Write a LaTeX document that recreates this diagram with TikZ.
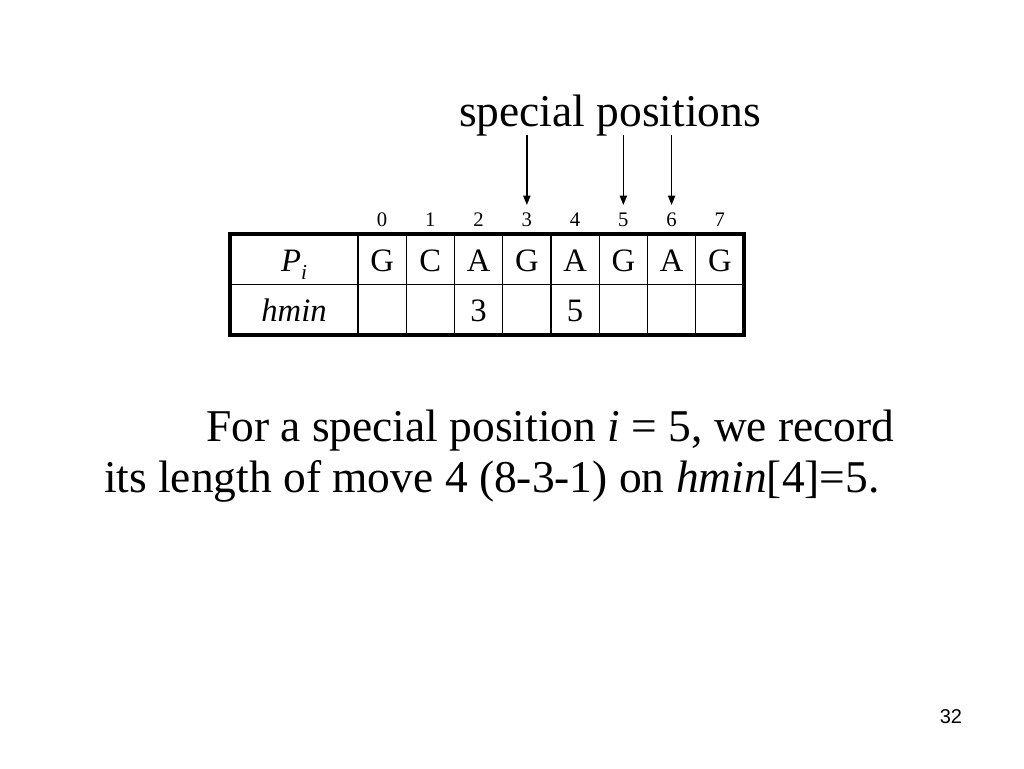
\documentclass[tikz,border=0pt]{standalone}
\usepackage{fontspec}
\setmainfont{Liberation Serif}
\newfontfamily\pagefont{Liberation Sans}
\usetikzlibrary{arrows.meta}
\tikzset{
  txt/.style={inner sep=0pt, outer sep=0pt, anchor=base},
  bigtxt/.style={txt, font=\fontsize{34.1}{40}\selectfont},
  celltxt/.style={txt, font=\fontsize{24.5}{28}\selectfont},
  idxtxt/.style={txt, font=\fontsize{15.5}{18}\selectfont},
  outer/.style={line width=2.6pt},
  inner/.style={line width=0.95pt},
  arr/.style={line width=1pt, -{Triangle[length=7pt,width=5.4pt]}}
}
\begin{document}
\begin{tikzpicture}[x=0.75pt,y=-0.75pt]
\useasboundingbox (0,0) rectangle (1024,768);
% title
\node[bigtxt, anchor=base west] (title) at (459,126.5) {special positions};
% index numbers
\foreach \k in {0,...,7}{
  \node[idxtxt] (i\k) at ({382.1+48.25*\k},226) {\k};
}
% arrows
\foreach \k in {3,5,6}{
  \coordinate (t\k) at ({382.1+48.25*\k},135);
  \coordinate (h\k) at ({382.1+48.25*\k},205);
  \draw[arr] (t\k) -- (h\k);
}
% table grid
\coordinate (tl) at (230,234);
\coordinate (br) at (744,335);
\draw[inner] (230,284.5) -- (744,284.5);
\foreach \k in {0,...,7}{
  \draw[inner] ({358+48.25*\k},234) -- ({358+48.25*\k},335);
}
\draw[outer] (tl) rectangle (br);
% row labels
\node[celltxt] (plabel) at (294,271.7) {\textit{P}\raisebox{-6pt}{\fontsize{16}{18}\selectfont\textit{i}}};
\node[celltxt] (hlabel) at (294,321.7) {\textit{hmin}};
% row 1
\foreach \k/\c in {0/G,1/C,2/A,3/G,4/A,5/G,6/A,7/G}{
  \node[celltxt] (p\k) at ({382.1+48.25*\k},271.2) {\c};
}
% row 2
\node[celltxt] (m2) at ({382.1+48.25*2},321.7) {3};
\node[celltxt] (m4) at ({382.1+48.25*4},321.7) {5};
% body text
\node[bigtxt, anchor=base west] (line1) at (206,441.7) {For a special position \textit{i} = 5, we record};
\node[bigtxt, anchor=base west] (line2) at (104,492.7) {its length of move 4 (8-3-1) on \textit{hmin}[4]=5.};
% page number
\node[txt, anchor=base east, font=\pagefont\fontsize{15}{18}\selectfont] (pnum) at (962,723.3) {32};
\end{tikzpicture}
\end{document}
